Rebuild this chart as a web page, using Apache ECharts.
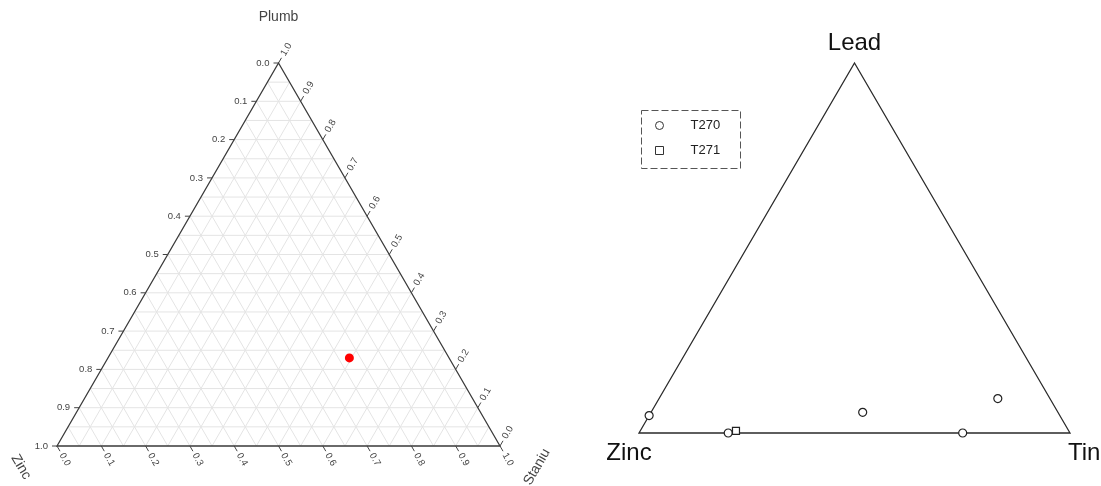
<!DOCTYPE html>
<html><head><meta charset="utf-8">
<script src="https://cdn.jsdelivr.net/npm/echarts@6/dist/echarts.min.js"></script>
<style>html,body{margin:0;padding:0;background:#fff}#c{width:1101px;height:486px}</style>
</head><body><div id="c"></div>
<script>
// ---------- data ----------
const tickValues = [0, 0.1, 0.2, 0.3, 0.4, 0.5, 0.6, 0.7, 0.8, 0.9, 1.0];
const tickLabels = ['0.0','0.1','0.2','0.3','0.4','0.5','0.6','0.7','0.8','0.9','1.0'];
const gridValues = [0.05,0.1,0.15,0.2,0.25,0.3,0.35,0.4,0.45,0.5,0.55,0.6,0.65,0.7,0.75,0.8,0.85,0.9,0.95];
const leftAxisNames = ['Plumb', 'Zinc', 'Staniu'];
const leftPlumb = [0.23];
const leftStaniu = [0.545];
const leftZinc = [0.225];

const rightAxisNames = ['Lead', 'Zinc', 'Tin'];
const seriesNames = ['T270', 'T271'];
const t270Lead = [0.047, 0.0, 0.056, 0.093, 0.0];
const t270Tin  = [0.0, 0.207, 0.491, 0.786, 0.751];
const t270Zinc = [0.953, 0.793, 0.453, 0.121, 0.249];
const t271Lead = [0.006];
const t271Tin  = [0.222];
const t271Zinc = [0.772];

// ternary -> cartesian (top component, right component)
function tern(top, right) { return [right + top / 2, top]; }

const FONT = 'Liberation Sans, Arial, sans-serif';
const chart = echarts.init(document.getElementById('c'));

const S3 = Math.sqrt(3) / 2;

function leftGrid(params, api) {
  const v = api.value(0);
  const c = (p, s) => api.coord(tern(p, s));
  const st = {stroke: '#e4e4e4', lineWidth: 1};
  const ln = (a, b) => ({type: 'line', shape: {x1: a[0], y1: a[1], x2: b[0], y2: b[1]}, style: st});
  return {type: 'group', children: [
    ln(c(v, 0), c(v, 1 - v)),
    ln(c(0, v), c(1 - v, v)),
    ln(c(0, 1 - v), c(1 - v, 0))
  ]};
}

function edges(color, width) {
  return function (params, api) {
    const a = api.coord(tern(1, 0)), l = api.coord(tern(0, 0)), r = api.coord(tern(0, 1));
    return {type: 'polygon', shape: {points: [a, r, l]}, style: {fill: 'none', stroke: color, lineWidth: width}};
  };
}

function leftTicks(params, api) {
  const v = api.value(0);
  const lab = tickLabels[api.value(1)];
  const c = (p, s) => api.coord(tern(p, s));
  const st = {stroke: '#444', lineWidth: 1};
  const txt = (x, y, rot, align) => ({type: 'text', x: x, y: y, rotation: rot,
    style: {text: lab, fill: '#444', fontSize: 9.5, fontFamily: FONT, align: align, verticalAlign: 'middle'}});
  const kids = [];
  // left edge: Zinc
  let p = c(1 - v, 0);
  kids.push({type: 'line', shape: {x1: p[0], y1: p[1], x2: p[0] - 5, y2: p[1]}, style: st});
  kids.push(txt(p[0] - 9, p[1], 0, 'right'));
  // bottom edge: Staniu
  p = c(0, v);
  kids.push({type: 'line', shape: {x1: p[0], y1: p[1], x2: p[0] + 3, y2: p[1] + 6 * S3}, style: st});
  kids.push(txt(p[0] + 4.5, p[1] + 9 * S3, -Math.PI / 3, 'left'));
  // right edge: Plumb
  p = c(v, 1 - v);
  kids.push({type: 'line', shape: {x1: p[0], y1: p[1], x2: p[0] + 3, y2: p[1] - 6 * S3}, style: st});
  kids.push(txt(p[0] + 4.5, p[1] - 9 * S3, Math.PI / 3, 'left'));
  return {type: 'group', children: kids};
}

function leftTitles(params, api) {
  const a = api.coord(tern(1, 0)), l = api.coord(tern(0, 0)), r = api.coord(tern(0, 1));
  const t = (text, x, y, rot) => ({type: 'text', x: x, y: y, rotation: rot,
    style: {text: text, fill: '#444', fontSize: 14, fontFamily: FONT, align: 'center', verticalAlign: 'middle'}});
  return {type: 'group', children: [
    t(leftAxisNames[0], a[0], a[1] - 46, 0),
    t(leftAxisNames[1], l[0] - 36, l[1] + 21, -Math.PI / 3),
    t(leftAxisNames[2], r[0] + 37, r[1] + 21, Math.PI / 3)
  ]};
}

function rightTitles(params, api) {
  const a = api.coord(tern(1, 0)), l = api.coord(tern(0, 0)), r = api.coord(tern(0, 1));
  const t = (text, x, y, align) => ({type: 'text', x: x, y: y,
    style: {text: text, fill: '#111', fontSize: 24, fontFamily: FONT, align: align, verticalAlign: 'middle'}});
  return {type: 'group', children: [
    t(rightAxisNames[0], a[0], a[1] - 20, 'center'),
    t(rightAxisNames[1], l[0] - 10, l[1] + 20, 'center'),
    t(rightAxisNames[2], r[0] - 2, r[1] + 20, 'left')
  ]};
}

const leftPts = leftPlumb.map((p, i) => tern(p, leftStaniu[i]));
const t270Pts = t270Lead.map((p, i) => tern(p, t270Tin[i]));
const t271Pts = t271Lead.map((p, i) => tern(p, t271Tin[i]));

const hiddenAxis = (gi) => ({type: 'value', gridIndex: gi, min: 0, max: 1, show: false});
const hollow = {color: '#fff', borderColor: '#222', borderWidth: 1.2, opacity: 1};

chart.setOption({
  animation: false,
  grid: [
    {left: 57, top: 63, width: 443, height: 383},
    {left: 639, top: 63, width: 431, height: 370}
  ],
  xAxis: [hiddenAxis(0), hiddenAxis(1)],
  yAxis: [hiddenAxis(0), hiddenAxis(1)],
  legend: {
    data: seriesNames, orient: 'vertical', left: 655, top: 118, padding: 0,
    itemWidth: 8, itemHeight: 8, itemGap: 10,
    itemStyle: {color: '#fff', borderColor: '#333', borderWidth: 1},
    textStyle: {fontSize: 13, color: '#222', fontFamily: FONT, padding: [0, 0, 0, 22], lineHeight: 15}
  },
  graphic: [{type: 'rect', left: 639, top: 108, shape: {width: 99, height: 58},
    style: {fill: 'none', stroke: '#555', lineWidth: 1, lineDash: [7, 3]}}],
  series: [
    {type: 'custom', xAxisIndex: 0, yAxisIndex: 0, renderItem: leftGrid, data: gridValues.map(v => [v, v]), silent: true, z: 1},
    {type: 'custom', xAxisIndex: 0, yAxisIndex: 0, renderItem: edges('#3a3a3a', 1.3), data: [[0, 0]], silent: true, z: 2},
    {type: 'custom', xAxisIndex: 0, yAxisIndex: 0, renderItem: leftTicks, data: tickValues.map((v, i) => [v, i]), silent: true, z: 2},
    {type: 'custom', xAxisIndex: 0, yAxisIndex: 0, renderItem: leftTitles, data: [[0, 0]], silent: true, z: 2},
    {type: 'scatter', xAxisIndex: 0, yAxisIndex: 0, data: leftPts, symbolSize: 9, itemStyle: {color: '#ff0000', opacity: 1}, z: 5},
    {type: 'custom', xAxisIndex: 1, yAxisIndex: 1, renderItem: edges('#2a2a2a', 1.3), data: [[0, 0]], silent: true, z: 2},
    {type: 'custom', xAxisIndex: 1, yAxisIndex: 1, renderItem: rightTitles, data: [[0, 0]], silent: true, z: 2},
    {name: seriesNames[0], type: 'scatter', xAxisIndex: 1, yAxisIndex: 1, data: t270Pts, symbol: 'circle', symbolSize: 8,
      itemStyle: hollow, z: 5},
    {name: seriesNames[1], type: 'scatter', xAxisIndex: 1, yAxisIndex: 1, data: t271Pts, symbol: 'rect', symbolSize: 7,
      itemStyle: hollow, z: 5}
  ]
});
</script></body></html>
